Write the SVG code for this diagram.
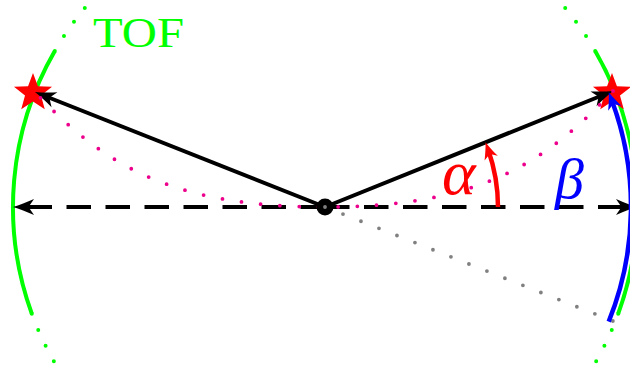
<svg xmlns="http://www.w3.org/2000/svg" xmlns:xlink="http://www.w3.org/1999/xlink" width="630" height="368" viewBox="0 0 630 368">
  <style>
    .tof { fill: none; stroke: #00ff00; stroke-width: 4; }
    .tofdot { fill: none; stroke: #00ff00; stroke-width: 4; stroke-linecap: round; stroke-dasharray: 0 17.5; }
    .ray { fill: none; stroke: #000; stroke-width: 4; }
    .axis { fill: none; stroke: #000; stroke-width: 4; stroke-dasharray: 24.5 14.5; }
    .pink { fill: none; stroke: #ec008c; stroke-width: 3.8; stroke-linecap: round; stroke-dasharray: 0 19.3; }
    .gray { fill: none; stroke: #808080; stroke-width: 3.8; stroke-linecap: round; stroke-dasharray: 0 19.35; }
    .beta { fill: none; stroke: #0000ff; stroke-width: 4.5; }
    .alpha { fill: none; stroke: #ff0000; stroke-width: 4.5; }
    .lbl { font-family: "Liberation Serif", "DejaVu Serif", serif; }
  </style>
  <defs>
    <polygon id="star" fill="#ff0000" points="0,-20 4.94,-6.8 19.02,-6.18 7.99,2.6 11.76,16.18 0,8.4 -11.76,16.18 -7.99,2.6 -19.02,-6.18 -4.94,-6.8"/>
    <marker id="ah-black" markerUnits="userSpaceOnUse" orient="auto" overflow="visible" refX="-8" refY="0" markerWidth="30" markerHeight="20">
      <path d="M0,0 C-6,-1.8 -14,-4.8 -21,-8 L-15.5,0 L-21,8 C-14,4.8 -6,1.8 0,0 Z" fill="#000"/>
    </marker>
    <marker id="ah-red" markerUnits="userSpaceOnUse" orient="auto" overflow="visible" refX="-8" refY="0" markerWidth="30" markerHeight="20">
      <path d="M0,0 C-5,-1.6 -11,-4.2 -17,-7 L-12.5,0 L-17,7 C-11,4.2 -5,1.6 0,0 Z" fill="#ff0000"/>
    </marker>
    <marker id="ah-blue" markerUnits="userSpaceOnUse" orient="auto" overflow="visible" refX="-8" refY="0" markerWidth="30" markerHeight="20">
      <path d="M0,0 C-5,-1.6 -11,-4.2 -17,-7 L-12.5,0 L-17,7 C-11,4.2 -5,1.6 0,0 Z" fill="#0000ff"/>
    </marker>
  </defs>

  <g id="tof-detector">
    <path class="tof" d="M54.8,51 A312,312 0 0 0 31.8,313.7"/>
    <path class="tofdot" d="M54.8,51 A312,312 0 0 1 86,6.5"/>
    <path class="tofdot" d="M31.8,313.7 A312,312 0 0 0 54.8,363"/>
    <path class="tof" d="M595.2,51 A312,312 0 0 1 618.2,313.7"/>
    <path class="tofdot" d="M595.2,51 A312,312 0 0 0 564,6.5"/>
    <path class="tofdot" d="M618.2,313.7 A312,312 0 0 1 595.2,363"/>
  </g>

  <g id="star-left"><use xlink:href="#star" x="33" y="93"/></g>
  <g id="star-right"><use xlink:href="#star" x="612" y="93"/></g>

  <g id="connectors">
    <path class="ray" d="M325,207 L42.4,95" marker-end="url(#ah-black)"/>
    <path class="ray" d="M325,207 L605.6,94" marker-end="url(#ah-black)"/>
    <path class="axis" d="M325,207 H21" marker-end="url(#ah-black)"/>
    <path class="axis" d="M325,207 H629" marker-end="url(#ah-black)"/>
    <path class="pink" d="M613,91 C543,166 475,207 325,207 C175,207 105,167 35,92"/>
  </g>

  <g id="center">
    <circle cx="325" cy="207" r="8.5" fill="#000"/>
  </g>

  <g id="connectors-angles">
    <path class="gray" d="M325,207 L612.9,321"/>
    <path class="beta" d="M608.7,321.6 A306,306 0 0 0 611.6,99.8" marker-end="url(#ah-blue)"/>
    <path class="alpha" d="M498,207 A173,173 0 0 0 488.2,149.7" marker-end="url(#ah-red)"/>
  </g>

  <g id="label-tof"><text class="lbl" x="93" y="47" font-size="43" fill="#00ff00" textLength="91" lengthAdjust="spacingAndGlyphs">TOF</text></g>
  <g id="label-alpha"><text class="lbl" x="442" y="194" font-size="64" font-style="italic" fill="#ff0000">α</text></g>
  <g id="label-beta"><text class="lbl" x="555" y="198" font-size="58" font-style="italic" fill="#0000ff">β</text></g>
</svg>
